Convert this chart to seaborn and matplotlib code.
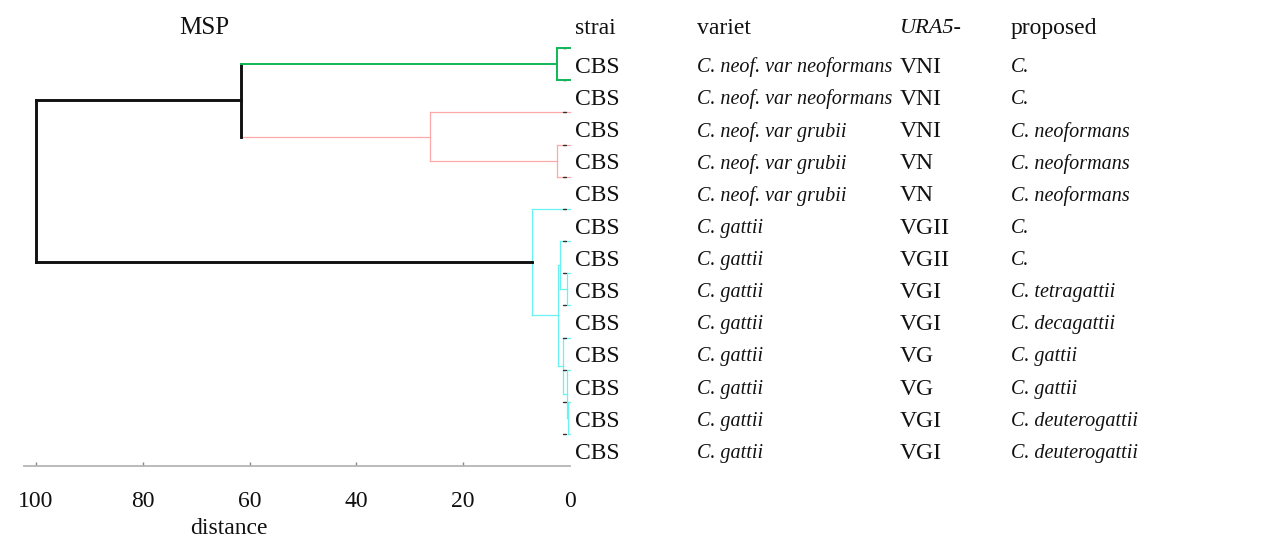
import numpy as np
import pandas as pd
import matplotlib
matplotlib.use("Agg")
import matplotlib.pyplot as plt
import seaborn as sns

# ---------------- data ----------------
strain = ["CBS"] * 13
variety = ["C. neof. var neoformans", "C. neof. var neoformans",
           "C. neof. var grubii", "C. neof. var grubii", "C. neof. var grubii",
           "C. gattii", "C. gattii", "C. gattii", "C. gattii", "C. gattii",
           "C. gattii", "C. gattii", "C. gattii"]
ura5 = ["VNI", "VNI", "VNI", "VN", "VN", "VGII", "VGII", "VGI", "VGI",
        "VG", "VG", "VGI", "VGI"]
proposed = ["C.", "C.", "C. neoformans", "C. neoformans", "C. neoformans",
            "C.", "C.", "C. tetragattii", "C. decagattii", "C. gattii",
            "C. gattii", "C. deuterogattii", "C. deuterogattii"]
headers = ["strai", "variet", "URA5-", "proposed"]

# linkage: nodes 13.. merge (left, right) at height
merge_left = [0, 3, 2, 13, 7, 6, 11, 10, 9, 18, 5, 16]
merge_right = [1, 4, 14, 15, 8, 17, 12, 19, 20, 21, 22, 23]
merge_height = [2.4, 2.4, 26.2, 61.6, 0.55, 1.8, 0.4, 0.6, 1.4, 2.2, 7.1, 100.0]
# colour of (left leg, vertical, right leg)
merge_colors = [("green", "green", "green"), ("red", "red", "red"),
                ("red", "red", "red"), ("green", "black", "red"),
                ("cyan", "cyan", "cyan"), ("cyan", "cyan", "cyan"),
                ("cyan", "cyan", "cyan"), ("cyan", "cyan", "cyan"),
                ("cyan", "cyan", "cyan"), ("cyan", "cyan", "cyan"),
                ("cyan", "cyan", "cyan"), ("black", "black", "black")]
dist_ticks = [100, 80, 60, 40, 20, 0]

# ---------------- style ----------------
sns.set_theme(style="white")
plt.rcParams["font.family"] = ["Liberation Serif", "DejaVu Serif"]
FS = 17
FS_IT = 14.5
TXT = "#111111"

W, H = 1286, 541
fig = plt.figure(figsize=(W / 100, H / 100), dpi=100)
fig.patch.set_facecolor("white")

LEAF0_PX, ROW_PX = 48, 32.17
ax = fig.add_axes([24 / W, (H - 466) / H, (570 - 24) / W, (466 - 30) / H])
ax.set_facecolor("none")

# ---------------- dendrogram segments ----------------
n_leaves = len(strain)
pos = {i: float(i) for i in range(n_leaves)}
hgt = {i: 0.0 for i in range(n_leaves)}
rows = []
seg_id = 0
for k, (l, r, h, cols) in enumerate(zip(merge_left, merge_right, merge_height, merge_colors)):
    node = n_leaves + k
    legs = [((hgt[l], pos[l]), (h, pos[l])),
            ((h, pos[l]), (h, pos[r])),
            ((h, pos[r]), (hgt[r], pos[r]))]
    for (p0, p1), c in zip(legs, cols):
        for j, (xx, yy) in enumerate([p0, p1]):
            rows.append({"seg": seg_id, "order": j, "dist": xx, "pos": yy, "group": c})
        seg_id += 1
    pos[node] = (pos[l] + pos[r]) / 2
    hgt[node] = h
seg_df = pd.DataFrame(rows)

styles = {
    "cyan": dict(color="#6af2f2", lw=0.9),
    "red": dict(color="#ffa8a8", lw=0.9),
    "green": dict(color="#10b855", lw=1.4),
    "black": dict(color="#111111", lw=2.1),
}


def draw_group(g):
    sub = seg_df[seg_df["group"] == g]
    sns.lineplot(data=sub, x="dist", y="pos", units="seg", estimator=None,
                 sort=False, ax=ax, legend=False, clip_on=False,
                 solid_capstyle="projecting", **styles[g])


draw_group("cyan")
draw_group("red")

# small leaf stubs
stub_rows = []
for i in range(n_leaves):
    stub_rows += [{"seg": i, "dist": 1.3, "pos": float(i)},
                  {"seg": i, "dist": 0.75, "pos": float(i)}]
stub_df = pd.DataFrame(stub_rows)
sns.lineplot(data=stub_df, x="dist", y="pos", units="seg", estimator=None,
             sort=False, ax=ax, legend=False, color="#333333", lw=1.0,
             clip_on=False)

draw_group("black")
draw_group("green")

ax.set_xlim(102.25, 0)
ax.set_ylim(12.99, -0.56)
for s in ["top", "left", "right"]:
    ax.spines[s].set_visible(False)
ax.spines["bottom"].set_color("#b5b5b5")
ax.spines["bottom"].set_linewidth(1.3)
ax.set_yticks([])
ax.set_ylabel("")
ax.set_xticks(dist_ticks)
ax.set_xticklabels([str(t) for t in dist_ticks], fontsize=FS, color=TXT)
ax.tick_params(axis="x", direction="in", length=3, width=1, color="#888888",
               pad=18, bottom=True)
ax.xaxis.get_major_ticks()[-1].tick1line.set_visible(False)
ax.set_xlabel("distance", fontsize=FS, color=TXT)
ax.xaxis.label.set_va("center")
ax.xaxis.set_label_coords((229 - 24) / 546, (466 - 528) / 436)
ax.text((204 - 24) / 546, (466 - 28) / 436, "MSP", transform=ax.transAxes,
        ha="center", va="center", fontsize=18, color=TXT)

# ---------------- table text ----------------
axt = fig.add_axes([0, 0, 1, 1], zorder=-1)
axt.set_xlim(0, W)
axt.set_ylim((H - LEAF0_PX) / ROW_PX, -LEAF0_PX / ROW_PX)
axt.axis("off")

col_x = [575, 697, 900, 1011]
hdr_row = -0.6
for x, h, it in zip(col_x, headers, [False, False, True, False]):
    axt.text(x, hdr_row, h, ha="left", va="center",
             fontsize=FS_IT + 1.5 if it else FS,
             style="italic" if it else "normal", color=TXT)
for i in range(n_leaves):
    y = i + 0.6
    axt.text(col_x[0], y, strain[i], ha="left", va="center", fontsize=FS, color=TXT)
    axt.text(col_x[1], y, variety[i], ha="left", va="center", fontsize=FS_IT,
             style="italic", color=TXT)
    axt.text(col_x[2], y, ura5[i], ha="left", va="center", fontsize=FS, color=TXT)
    axt.text(col_x[3], y, proposed[i], ha="left", va="center", fontsize=FS_IT,
             style="italic", color=TXT)

fig.savefig("out.png", dpi=100, facecolor="white")
